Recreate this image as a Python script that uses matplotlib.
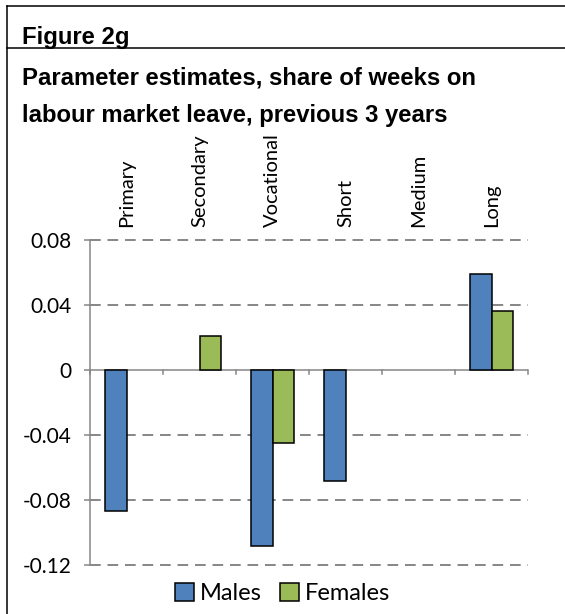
import numpy as np
import matplotlib
matplotlib.use("Agg")
import matplotlib.pyplot as plt
from matplotlib.lines import Line2D

# Parameter estimates by education level (blank = not significant)
categories = ["Primary", "Secondary", "Vocational", "Short", "Medium", "Long"]
males = [-0.087, np.nan, -0.108, -0.068, np.nan, 0.059]
females = [np.nan, 0.021, -0.045, np.nan, np.nan, 0.036]
yticks = [0.08, 0.04, 0, -0.04, -0.08, -0.12]
ytick_labels = ["0.08", "0.04", "0", "-0.04", "-0.08", "-0.12"]

W, H = 565, 614
DPI = 100
BLUE = "#4F81BD"
GREEN = "#9BBB59"
GRID = "#868686"


def fx(px):
    return px / W


def fy(py):
    return 1 - py / H


fig = plt.figure(figsize=(W / DPI, H / DPI), dpi=DPI)

# frame lines around the header
lw_frame = 1.1
fig.add_artist(Line2D([fx(7), fx(7)], [fy(6), 0], color="black", lw=lw_frame))
fig.add_artist(Line2D([fx(7), 1], [fy(6), fy(6)], color="black", lw=lw_frame))
fig.add_artist(Line2D([fx(7), 1], [fy(48), fy(48)], color="black", lw=lw_frame))

title_font = dict(family="Liberation Sans", weight="bold", size=17.2)
fig.text(fx(22), fy(44), "Figure 2g", ha="left", va="baseline", **title_font)
fig.text(fx(22), fy(84), "Parameter estimates, share of weeks on",
         ha="left", va="baseline", **title_font)
fig.text(fx(22), fy(122), "labour market leave, previous 3 years",
         ha="left", va="baseline", **title_font)

ax = fig.add_axes([fx(90), fy(565), fx(528) - fx(90), fy(240) - fy(565)])

x = np.arange(len(categories))
bw = 0.288
ax.bar(x - bw / 2, males, bw, color=BLUE, edgecolor="black", linewidth=1.1,
       label="Males", zorder=3)
ax.bar(x + bw / 2, females, bw, color=GREEN, edgecolor="black", linewidth=1.1,
       label="Females", zorder=3)

ax.set_xlim(-0.5, len(categories) - 0.5)
ax.set_ylim(-0.12, 0.08)

# dashed horizontal gridlines, solid zero line
for v in yticks:
    if v == 0:
        continue
    ax.axhline(v, color=GRID, lw=1.4, linestyle=(0, (5.5, 3.5)), zorder=1,
               clip_on=False)
ax.axhline(0, color=GRID, lw=1.1, zorder=2)

for s in ["top", "right", "bottom"]:
    ax.spines[s].set_visible(False)
ax.spines["left"].set_color(GRID)
ax.spines["left"].set_linewidth(1.1)

ax.set_yticks(yticks)
ax.set_yticklabels(ytick_labels, family="Lato", size=15)
ax.tick_params(axis="y", length=4.5, width=1.1, color=GRID, pad=9)

# category ticks sit on the zero line, labels run above the plot
ax.set_xticks([])
for b in np.arange(len(categories) + 1) - 0.5:
    ax.plot([b, b], [0, -0.0022], color=GRID, lw=1.1, zorder=2, clip_on=False)
label_y = 1 + 13 / (565 - 240)
for i, c in enumerate(categories):
    ax.text(i, label_y, c, transform=ax.get_xaxis_transform(), rotation=90,
            ha="center", va="bottom", family="Lato", size=14.5)

leg = ax.legend(loc="upper center", bbox_to_anchor=(0.44, -0.025), ncol=2,
                frameon=False, prop=dict(family="Lato", size=17),
                handlelength=0.8, handleheight=0.8, handletextpad=0.25,
                columnspacing=0.8, borderaxespad=0)

fig.savefig("out.png", dpi=DPI)
